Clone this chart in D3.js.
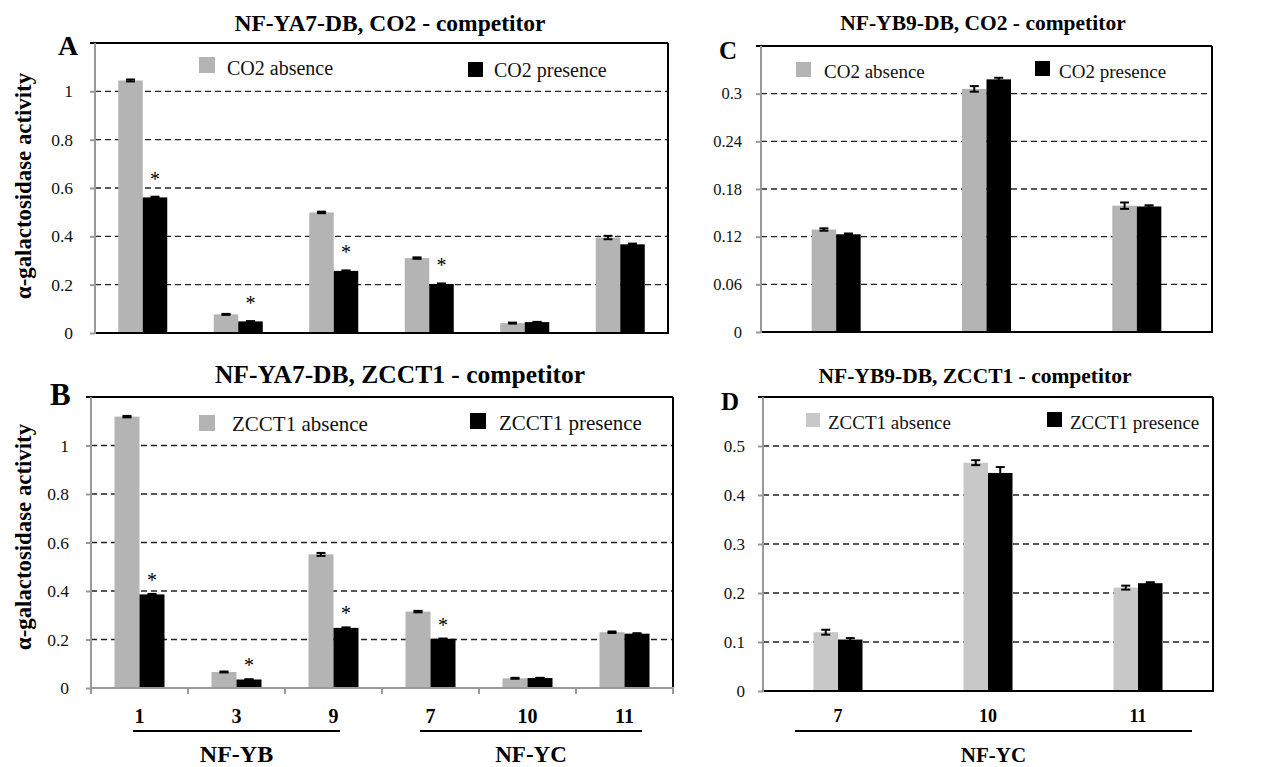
<!DOCTYPE html>
<html>
<head>
<script src="https://d3js.org/d3.v7.min.js"></script>
<style>
  body { margin: 0; background: #fff; }
  svg text { font-family: "Liberation Serif", "Times New Roman", serif; }
</style>
</head>
<body>
<div id="chart"></div>
<script>
// categories
var catsAB = ["1", "3", "9", "7", "10", "11"];
var catsCD = ["7", "10", "11"];

// A: NF-YA7-DB, CO2 - competitor
var aAbsence = [1.045, 0.077, 0.499, 0.310, 0.041, 0.395];
var aAbsenceErr = [0.004, 0.002, 0.003, 0.003, 0.002, 0.007];
var aPresence = [0.561, 0.048, 0.257, 0.203, 0.045, 0.367];
var aPresenceErr = [0.003, 0.001, 0.002, 0.002, 0.001, 0.003];
var aStars = ["1", "3", "9", "7"];

// B: NF-YA7-DB, ZCCT1 - competitor
var bAbsence = [1.119, 0.066, 0.551, 0.315, 0.040, 0.230];
var bAbsenceErr = [0.003, 0.002, 0.006, 0.003, 0.002, 0.003];
var bPresence = [0.386, 0.035, 0.248, 0.203, 0.041, 0.224];
var bPresenceErr = [0.002, 0.001, 0.002, 0.001, 0.001, 0.002];
var bStars = ["1", "3", "9", "7"];

// C: NF-YB9-DB, CO2 - competitor
var cAbsence = [0.129, 0.306, 0.159];
var cAbsenceErr = [0.0015, 0.0035, 0.004];
var cPresence = [0.123, 0.318, 0.158];
var cPresenceErr = [0.001, 0.002, 0.0015];

// D: NF-YB9-DB, ZCCT1 - competitor
var dAbsence = [0.120, 0.466, 0.211];
var dAbsenceErr = [0.005, 0.005, 0.004];
var dPresence = [0.105, 0.445, 0.220];
var dPresenceErr = [0.003, 0.012, 0.002];

// y ticks
var ticksAB = [0, 0.2, 0.4, 0.6, 0.8, 1];
var ticksC = [0, 0.06, 0.12, 0.18, 0.24, 0.3];
var ticksD = [0, 0.1, 0.2, 0.3, 0.4, 0.5];

var svg = d3.select("#chart").append("svg")
    .attr("width", 1288)
    .attr("height", 767);

function drawPanel(p) {
    var g = svg.append("g");
    var y = d3.scaleLinear().domain([0, p.max]).range([p.bottom, p.top]);
    var x0 = d3.scaleBand().domain(p.cats).range([p.left, p.right]);
    var x1 = d3.scaleBand().domain(["abs", "pres"]).range([0, 2 * p.barW]);
    var off = x0.bandwidth() / 2 - p.barW;

    // dashed gridlines
    g.selectAll(".grid").data(p.ticks.filter(function(t) { return t > 0; }))
        .enter().append("line")
        .attr("x1", p.left).attr("x2", p.right)
        .attr("y1", function(d) { return y(d); })
        .attr("y2", function(d) { return y(d); })
        .attr("stroke", "#222")
        .attr("stroke-width", 1.4)
        .attr("stroke-dasharray", "6,4");

    // y axis
    var axis = g.append("g")
        .attr("transform", "translate(" + p.left + ",0)")
        .call(d3.axisLeft(y).tickValues(p.ticks).tickSize(5).tickSizeOuter(0)
            .tickFormat(function(d) { return d3.format("~g")(d); }));
    axis.select(".domain").remove();
    axis.selectAll("line").attr("stroke", "#999").attr("stroke-width", 2);
    axis.selectAll("text")
        .attr("x", -p.tickGap)
        .attr("fill", "#111")
        .style("font-size", p.tickFont + "px")
        .style("font-family", "'Liberation Serif', serif");

    // bars
    var rows = p.cats.map(function(c, i) {
        return [
            {cat: c, key: "abs", v: p.abs[i], e: p.absErr[i]},
            {cat: c, key: "pres", v: p.pres[i], e: p.presErr[i]}
        ];
    });
    var flat = [].concat.apply([], rows);
    function bx(d) { return x0(d.cat) + off + x1(d.key); }

    g.selectAll(".bar").data(flat).enter().append("rect")
        .attr("x", bx)
        .attr("width", x1.bandwidth())
        .attr("y", function(d) { return y(d.v); })
        .attr("height", function(d) { return y(0) - y(d.v); })
        .attr("fill", function(d) { return d.key === "abs" ? p.gray : "#000"; });

    // error bars
    var eb = g.selectAll(".err").data(flat).enter().append("g")
        .attr("stroke", "#000").attr("stroke-width", 2);
    eb.append("line")
        .attr("x1", function(d) { return bx(d) + x1.bandwidth() / 2; })
        .attr("x2", function(d) { return bx(d) + x1.bandwidth() / 2; })
        .attr("y1", function(d) { return y(d.v - d.e); })
        .attr("y2", function(d) { return y(d.v + d.e); });
    [-1, 1].forEach(function(s) {
        eb.append("line")
            .attr("x1", function(d) { return bx(d) + x1.bandwidth() / 2 - 4.5; })
            .attr("x2", function(d) { return bx(d) + x1.bandwidth() / 2 + 4.5; })
            .attr("y1", function(d) { return y(d.v + s * d.e); })
            .attr("y2", function(d) { return y(d.v + s * d.e); });
    });

    // significance marks
    if (p.stars) {
        g.selectAll(".star").data(flat.filter(function(d) {
            return d.key === "pres" && p.stars.indexOf(d.cat) >= 0;
        })).enter().append("text")
            .attr("x", function(d) { return bx(d) + x1.bandwidth() / 2; })
            .attr("y", function(d) { return y(d.v + d.e) - p.starGap; })
            .attr("text-anchor", "middle")
            .style("font-size", "20px")
            .text("*");
    }

    // frame
    g.append("line").attr("x1", p.left - 5).attr("x2", p.right)
        .attr("y1", p.top).attr("y2", p.top)
        .attr("stroke", "#000").attr("stroke-width", 2);
    g.append("line").attr("x1", p.right).attr("x2", p.right)
        .attr("y1", p.top).attr("y2", p.bottom)
        .attr("stroke", "#000").attr("stroke-width", 2);
    g.append("line").attr("x1", p.left).attr("x2", p.right + 1)
        .attr("y1", p.bottom).attr("y2", p.bottom)
        .attr("stroke", p.bottomColor).attr("stroke-width", 2);
    g.append("line").attr("x1", p.left).attr("x2", p.left)
        .attr("y1", p.top).attr("y2", p.bottom + 1)
        .attr("stroke", "#999").attr("stroke-width", 2);

    if (p.xTicks) {
        var edges = [p.left].concat(p.cats.map(function(c) { return x0(c) + x0.bandwidth(); }));
        g.selectAll(".xt").data(edges).enter().append("line")
            .attr("x1", function(d) { return d; }).attr("x2", function(d) { return d; })
            .attr("y1", p.bottom).attr("y2", p.bottom + 6)
            .attr("stroke", "#999").attr("stroke-width", 2);
    }

    // legend
    p.legend.forEach(function(l) {
        g.append("rect").attr("x", l.x).attr("y", l.y)
            .attr("width", l.s).attr("height", l.s)
            .attr("fill", l.color);
        g.append("text").attr("x", l.tx).attr("y", l.ty)
            .style("font-size", p.legendFont + "px")
            .attr("fill", "#111")
            .text(l.label);
    });

    // title and letter
    g.append("text").attr("x", p.titleX).attr("y", p.titleY)
        .attr("text-anchor", "middle")
        .style("font-size", p.titleFont + "px").style("font-weight", "bold")
        .text(p.title);
    g.append("text").attr("x", p.letterX).attr("y", p.letterY)
        .style("font-size", p.letterFont + "px").style("font-weight", "bold")
        .text(p.letter);

    // y label
    if (p.ylabel) {
        g.append("text")
            .attr("transform", "translate(31," + p.ylabelY + ") rotate(-90)")
            .attr("text-anchor", "middle")
            .style("font-size", "22.8px").style("font-weight", "bold")
            .text("\u03b1-galactosidase activity");
    }

    // category labels
    if (p.catLabels) {
        g.selectAll(".cl").data(p.cats).enter().append("text")
            .attr("x", function(d) { return x0(d) + x0.bandwidth() / 2; })
            .attr("y", p.catY)
            .attr("text-anchor", "middle")
            .style("font-size", p.catFont + "px").style("font-weight", "bold")
            .text(function(d) { return d; });
        p.groups.forEach(function(gr) {
            g.append("line").attr("x1", gr.x1).attr("x2", gr.x2)
                .attr("y1", 731).attr("y2", 731)
                .attr("stroke", "#000").attr("stroke-width", 2);
            g.append("text").attr("x", (gr.x1 + gr.x2) / 2).attr("y", 762)
                .attr("text-anchor", "middle")
                .style("font-size", gr.font + "px").style("font-weight", "bold")
                .text(gr.label);
        });
    }
}

drawPanel({
    cats: catsAB, abs: aAbsence, absErr: aAbsenceErr, pres: aPresence, presErr: aPresenceErr,
    stars: aStars, starGap: 11,
    left: 95, right: 668, top: 43, bottom: 333, max: 1.2, ticks: ticksAB,
    tickFont: 17.5, tickGap: 22, barW: 24.5, gray: "#b4b4b4", bottomColor: "#000", xTicks: false,
    legendFont: 20,
    legend: [
        {x: 199, y: 57, s: 16, color: "#b4b4b4", tx: 227, ty: 75, label: "CO2 absence"},
        {x: 468, y: 62, s: 15, color: "#000", tx: 494, ty: 77, label: "CO2 presence"}
    ],
    title: "NF-YA7-DB, CO2 - competitor", titleX: 390, titleY: 31, titleFont: 23.5,
    letter: "A", letterX: 58, letterY: 55, letterFont: 28,
    ylabel: true, ylabelY: 186
});

drawPanel({
    cats: catsAB, abs: bAbsence, absErr: bAbsenceErr, pres: bPresence, presErr: bPresenceErr,
    stars: bStars, starGap: 7,
    left: 91, right: 673, top: 397, bottom: 688, max: 1.2, ticks: ticksAB,
    tickFont: 17.5, tickGap: 22, barW: 25, gray: "#b4b4b4", bottomColor: "#999", xTicks: true,
    legendFont: 21,
    legend: [
        {x: 199, y: 415, s: 16, color: "#b4b4b4", tx: 232, ty: 431, label: "ZCCT1 absence"},
        {x: 470, y: 413, s: 16, color: "#000", tx: 499, ty: 430, label: "ZCCT1 presence"}
    ],
    title: "NF-YA7-DB, ZCCT1 - competitor", titleX: 400, titleY: 383, titleFont: 25.5,
    letter: "B", letterX: 50, letterY: 405, letterFont: 31,
    ylabel: true, ylabelY: 537,
    catLabels: true, catY: 723, catFont: 20,
    groups: [
        {x1: 133, x2: 340, label: "NF-YB", font: 24},
        {x1: 420, x2: 642, label: "NF-YC", font: 23}
    ]
});

drawPanel({
    cats: catsCD, abs: cAbsence, absErr: cAbsenceErr, pres: cPresence, presErr: cPresenceErr,
    left: 761, right: 1212, top: 46, bottom: 332, max: 0.36, ticks: ticksC,
    tickFont: 16.5, tickGap: 19, barW: 24.5, gray: "#b4b4b4", bottomColor: "#000", xTicks: false,
    legendFont: 19,
    legend: [
        {x: 796, y: 62, s: 15, color: "#b4b4b4", tx: 824, ty: 78, label: "CO2 absence"},
        {x: 1035, y: 61, s: 15, color: "#000", tx: 1059, ty: 78, label: "CO2 presence"}
    ],
    title: "NF-YB9-DB, CO2 - competitor", titleX: 983, titleY: 30, titleFont: 21.5,
    letter: "C", letterX: 719, letterY: 59, letterFont: 25
});

drawPanel({
    cats: catsCD, abs: dAbsence, absErr: dAbsenceErr, pres: dPresence, presErr: dPresenceErr,
    left: 763, right: 1213, top: 397, bottom: 691, max: 0.6, ticks: ticksD,
    tickFont: 17, tickGap: 18, barW: 24.5, gray: "#c8c8c8", bottomColor: "#000", xTicks: false,
    legendFont: 19,
    legend: [
        {x: 806, y: 413, s: 14, color: "#c8c8c8", tx: 828, ty: 429, label: "ZCCT1 absence"},
        {x: 1047, y: 412, s: 15, color: "#000", tx: 1070, ty: 429, label: "ZCCT1 presence"}
    ],
    title: "NF-YB9-DB, ZCCT1 - competitor", titleX: 975, titleY: 383, titleFont: 21.5,
    letter: "D", letterX: 721, letterY: 410, letterFont: 25,
    catLabels: true, catY: 722, catFont: 18,
    groups: [
        {x1: 795, x2: 1192, label: "NF-YC", font: 21}
    ]
});
</script>
</body>
</html>
